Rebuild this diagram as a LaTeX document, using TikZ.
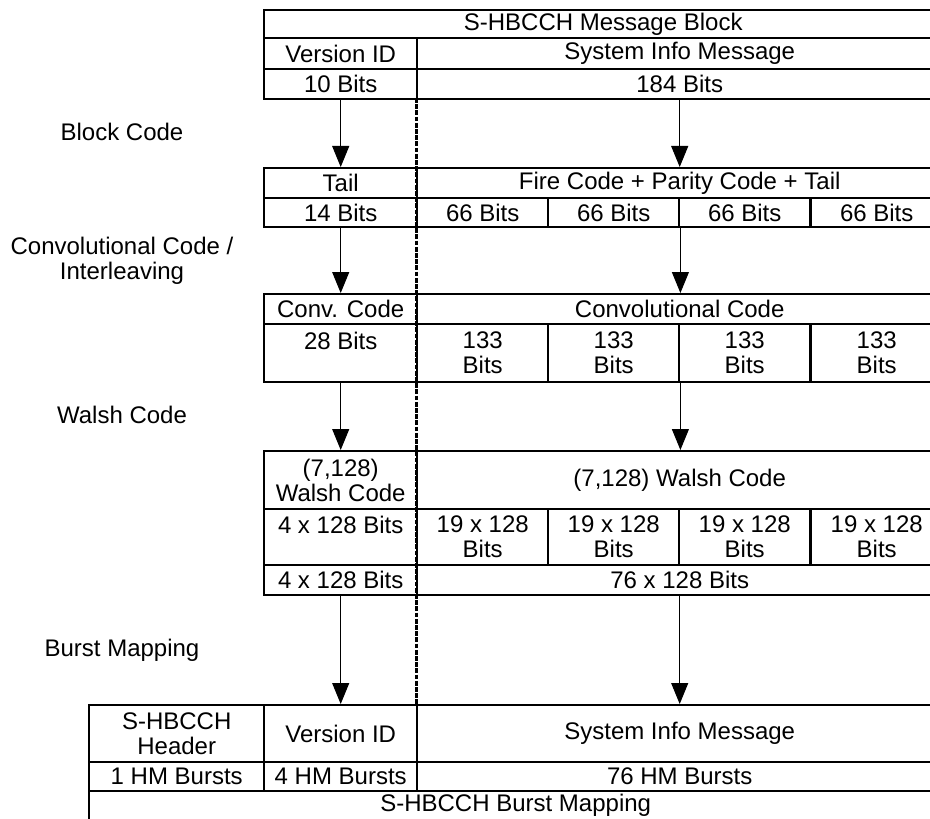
\documentclass[tikz,border=0pt]{standalone}
\usepackage{fontspec}
\setmainfont{Liberation Sans}
\usetikzlibrary{arrows.meta}

\tikzset{
  every node/.style={font=\fontsize{12}{12.5}\selectfont},
  cell/.style={draw, line width=1.2pt, inner sep=0pt, anchor=north west, align=center},
  wd/.style={minimum width=#1*0.5pt},
  ht/.style={minimum height=#1*0.5pt},
  lbl/.style={align=center, inner sep=0pt},
  arr/.style={-{Triangle[length=10.5pt,width=8.5pt]}, line width=0.5pt},
  divline/.style={line width=1.5pt, dash pattern=on 2.4pt off 0.7pt}
}

\begin{document}
\begin{tikzpicture}[x=0.5pt, y=-0.5pt]
  \useasboundingbox (0,0) rectangle (930,818);

  % stage labels
  \node[lbl] (lblblock) at (122,132) {Block Code};
  \node[lbl] (lblconv) at (122,261) {Convolutional Code /\\Interleaving};
  \node[lbl] (lblwalsh) at (122,415) {Walsh Code};
  \node[lbl] (lblburst) at (122,650) {Burst Mapping};

  % divider between version id and message
  \coordinate (divtop) at (416,98);
  \coordinate (divbot) at (416,704);
  \draw[divline] (divtop) -- (divbot);

  % message block
  \node[cell, wd=678, ht=28] (mblock) at (263,9) {S-HBCCH Message Block};
  \node[cell, wd=153, ht=31] (verid) at (263,37) {Version ID};
  \node[cell, wd=525, ht=31] (sysinfo) at (416,37) {System Info Message};
  \node[cell, wd=153, ht=30] (ver10) at (263,68) {10 Bits};
  \node[cell, wd=525, ht=30] (sys184) at (416,68) {184 Bits};

  % block code
  \node[cell, wd=153, ht=30] (tail) at (263,167) {Tail};
  \node[cell, wd=525, ht=30] (fire) at (416,167) {Fire Code + Parity Code + Tail};
  \node[cell, wd=153, ht=29] (bits14) at (263,197) {14 Bits};
  \foreach \i/\xx in {1/416,2/547,3/678,4/810}
    \node[cell, wd=131, ht=29] (ssix\i) at (\xx,197) {66 Bits};

  % convolutional code
  \node[cell, wd=153, ht=30] (convl) at (263,293) {Conv. Code};
  \node[cell, wd=525, ht=30] (convr) at (416,293) {Convolutional Code};
  \node[cell, wd=153, ht=58] (bits28) at (263,323) {28 Bits\\\mbox{}};
  \foreach \i/\xx in {1/416,2/547,3/678,4/810}
    \node[cell, wd=131, ht=58] (othree\i) at (\xx,323) {133\\Bits};

  % walsh code
  \node[cell, wd=153, ht=58] (walshl) at (263,450) {(7,128)\\Walsh Code};
  \node[cell, wd=525, ht=58] (walshr) at (416,450) {(7,128) Walsh Code};
  \node[cell, wd=153, ht=56] (four128a) at (263,508) {4 x 128 Bits\\\mbox{}};
  \foreach \i/\xx in {1/416,2/547,3/678,4/810}
    \node[cell, wd=131, ht=56] (nineteen\i) at (\xx,508) {19 x 128\\Bits};
  \node[cell, wd=153, ht=30] (four128b) at (263,564) {4 x 128 Bits};
  \node[cell, wd=525, ht=30] (bits76) at (416,564) {76 x 128 Bits};

  % burst mapping
  \node[cell, wd=175, ht=57] (hhdr) at (88,704) {S-HBCCH\\Header};
  \node[cell, wd=153, ht=57] (hver) at (263,704) {Version ID};
  \node[cell, wd=525, ht=57] (hsys) at (416,704) {System Info Message};
  \node[cell, wd=175, ht=29] (hm1) at (88,761) {1 HM Bursts};
  \node[cell, wd=153, ht=29] (hm4) at (263,761) {4 HM Bursts};
  \node[cell, wd=525, ht=29] (hm76) at (416,761) {76 HM Bursts};
  \node[cell, wd=853, ht=29] (hmap) at (88,790) {S-HBCCH Burst Mapping};

  % arrows
  \draw[arr] (ver10.south) -- (tail.north);
  \draw[arr] (sys184.south) -- (fire.north);
  \draw[arr] (bits14.south) -- (convl.north);
  \draw[arr] (ssix2.south east) -- (ssix2.south east |- convr.north);
  \draw[arr] (bits28.south) -- (walshl.north);
  \draw[arr] (othree2.south east) -- (othree2.south east |- walshr.north);
  \draw[arr] (four128b.south) -- (hver.north);
  \draw[arr] (bits76.south) -- (hsys.north);
\end{tikzpicture}
\end{document}
